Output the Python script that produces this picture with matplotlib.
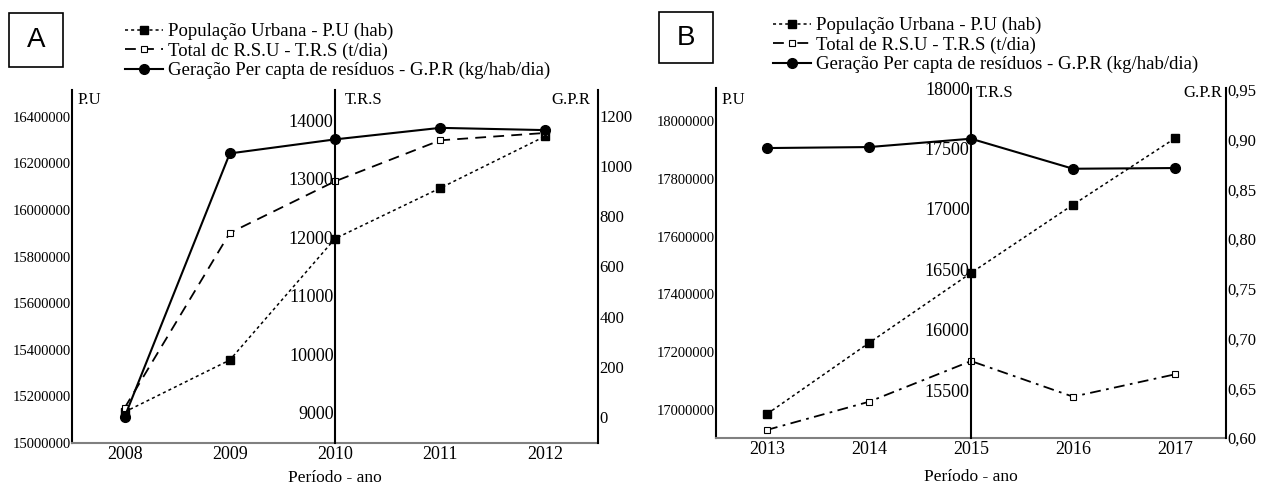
import matplotlib.pyplot as plt
import matplotlib.patches as mpatches

plt.rcParams["font.family"] = ["Liberation Serif", "DejaVu Serif"]

W, H = 1267, 487

# ---- panel A (2008-2012) ----
years_a = [2008, 2009, 2010, 2011, 2012]
pu_a = [15133000, 15356000, 15877000, 16094000, 16317000]
trs_a = [9085, 12077, 12959, 13660, 13786]
gpr_a = [0, 1051, 1107, 1153, 1144]
pu_ticks_a = [15000000, 15200000, 15400000, 15600000, 15800000, 16000000, 16200000, 16400000]
trs_ticks_a = [9000, 10000, 11000, 12000, 13000, 14000]
gpr_ticks_a = [0, 200, 400, 600, 800, 1000, 1200]
labels_a = ["População Urbana - P.U (hab)",
            "Total dc R.S.U - T.R.S (t/dia)",
            "Geração Per capta de resíduos - G.P.R (kg/hab/dia)"]

# ---- panel B (2013-2017) ----
years_b = [2013, 2014, 2015, 2016, 2017]
pu_b = [16986000, 17232000, 17474000, 17710000, 17940000]
trs_b = [15170, 15403, 15740, 15445, 15630]
gpr_b = [0.8916, 0.8926, 0.901, 0.8708, 0.8715]
pu_ticks_b = [17000000, 17200000, 17400000, 17600000, 17800000, 18000000]
trs_ticks_b = [15500, 16000, 16500, 17000, 17500, 18000]
gpr_ticks_b = [0.60, 0.65, 0.70, 0.75, 0.80, 0.85, 0.90, 0.95]
labels_b = ["População Urbana - P.U (hab)",
            "Total de R.S.U - T.R.S (t/dia)",
            "Geração Per capta de resíduos - G.P.R (kg/hab/dia)"]


def fx(px):
    return px / W


def fy(py):
    return 1 - py / H


def panel(fig, box, years, pu, trs, gpr, lims, ticks, gpr_labels, trs_ls,
          labels, letter, letter_box, legend_at, name_pos, xlabel_pad):
    left, top, right, bottom = box
    ax = fig.add_axes([fx(left), fy(bottom), fx(right - left), (bottom - top) / H])
    mid = years[2]

    l1, = ax.plot(years, pu, ls=(0, (2, 2)), lw=1.1, color="black",
                  marker="s", ms=5.5, mfc="black", mec="black")
    ax.set_xlim(years[0] - 0.5, years[-1] + 0.5)
    ax.set_ylim(*lims[0])
    ax.set_yticks(ticks[0])
    ax.set_yticklabels([str(v) for v in ticks[0]])
    ax.set_xticks(years)
    ax.tick_params(axis="y", length=0, pad=1, labelsize=10.5)
    ax.tick_params(axis="x", length=0, pad=2, labelsize=13)
    for s in ["top", "right"]:
        ax.spines[s].set_visible(False)
    ax.spines["bottom"].set_color("#808080")
    ax.spines["bottom"].set_linewidth(1.5)
    ax.spines["left"].set_linewidth(1.5)
    ax.set_xlabel("Período - ano", fontsize=12.5, labelpad=xlabel_pad)

    # middle axis (T.R.S)
    ax2 = ax.twinx()
    l2, = ax2.plot(years, trs, ls=trs_ls, lw=1.3, color="black",
                   marker="s", ms=5, mfc="white", mec="black", mew=0.8)
    ax2.set_ylim(*lims[1])
    ax2.yaxis.tick_left()
    ax2.set_yticks(ticks[1])
    ax2.set_yticklabels([str(v) for v in ticks[1]])
    ax2.tick_params(axis="y", length=0, pad=1, labelsize=13)
    for s in ["top", "right", "bottom"]:
        ax2.spines[s].set_visible(False)
    ax2.spines["left"].set_visible(True)
    ax2.spines["left"].set_position(("data", mid))
    ax2.spines["left"].set_linewidth(1.5)

    # right axis (G.P.R)
    ax3 = ax.twinx()
    l3, = ax3.plot(years, gpr, ls="-", lw=1.5, color="black",
                   marker="o", ms=7, mfc="black", mec="black")
    ax3.set_ylim(*lims[2])
    ax3.set_yticks(ticks[2])
    ax3.set_yticklabels(gpr_labels)
    ax3.tick_params(axis="y", length=0, pad=1, labelsize=12)
    for s in ["top", "left", "bottom"]:
        ax3.spines[s].set_visible(False)
    ax3.spines["right"].set_linewidth(1.5)

    # axis names
    (px1, py1), (px2, py2), (px3, py3) = name_pos
    fig.text(fx(px1), fy(py1), "P.U", fontsize=12, va="center", ha="left")
    fig.text(fx(px2), fy(py2), "T.R.S", fontsize=12, va="center", ha="left")
    fig.text(fx(px3), fy(py3), "G.P.R", fontsize=12, va="center", ha="right")

    # letter box
    bx0, by0, bx1, by1 = letter_box
    fig.add_artist(mpatches.Rectangle((fx(bx0), fy(by1)), fx(bx1 - bx0), (by1 - by0) / H,
                                      transform=fig.transFigure, fill=False,
                                      edgecolor="black", lw=1.2))
    fig.text(fx((bx0 + bx1) / 2), fy((by0 + by1) / 2), letter, fontsize=20,
             family="Liberation Sans", ha="center", va="center")

    fig.legend([l1, l2, l3], labels, loc="upper left",
               bbox_to_anchor=(fx(legend_at[0]), fy(legend_at[1])),
               frameon=False, borderpad=0, handlelength=2.0, handletextpad=0.3,
               labelspacing=0.12, fontsize=13.5, borderaxespad=0)


fig = plt.figure(figsize=(W / 100, H / 100), dpi=100)

panel(fig, (72, 90, 598, 443), years_a, pu_a, trs_a, gpr_a,
      [(15000000, 16515000), (8486, 14520), (-104, 1304)],
      [pu_ticks_a, trs_ticks_a, gpr_ticks_a],
      [str(v) for v in gpr_ticks_a], (0, (6, 4)), labels_a,
      "A", (9, 13, 63, 67), (125, 23),
      [(78, 100), (345, 100), (590, 100)], 5)

panel(fig, (716, 88, 1226, 438), years_b, pu_b, trs_b, gpr_b,
      [(16903000, 18114000), (15103, 18000), (0.60, 0.952)],
      [pu_ticks_b, trs_ticks_b, gpr_ticks_b],
      [f"{v:.2f}".replace(".", ",") for v in gpr_ticks_b], (0, (6, 3, 1.5, 3)), labels_b,
      "B", (659, 12, 713, 63), (773, 17),
      [(722, 100), (976, 93), (1222, 93)], 8)

fig.savefig("out.png", dpi=100)
